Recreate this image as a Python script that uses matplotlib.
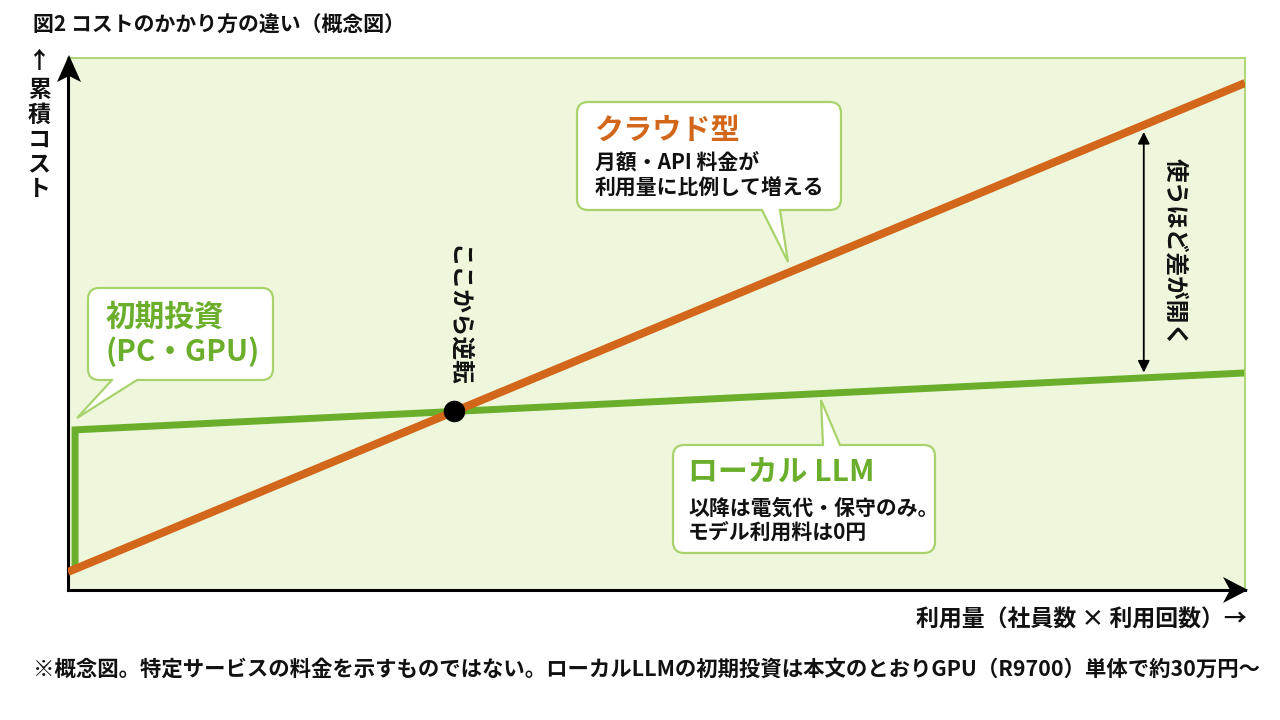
import matplotlib
matplotlib.use('Agg')
import matplotlib.pyplot as plt
from matplotlib.patches import FancyBboxPatch, Polygon

plt.rcParams['font.family'] = ['Noto Sans CJK JP', 'DejaVu Sans']

# ---------------- data ----------------
usage = [0, 100]                      # usage (arbitrary units)
cloud_cost = [3.4, 95.3]              # cumulative cost, cloud
local_usage = [0.6, 0.6, 100]         # local: initial investment step, then slow growth
local_cost = [4.0, 30.1, 40.8]

title = "図2 コストのかかり方の違い（概念図）"
ylabel = "↑累積コスト"
xlabel = "利用量（社員数 × 利用回数）→"
note = "※概念図。特定サービスの料金を示すものではない。ローカルLLMの初期投資は本文のとおりGPU（R9700）単体で約30万円～"
cloud_title = "クラウド型"
cloud_body = ["月額・API 料金が", "利用量に比例して増える"]
local_title = "ローカル LLM"
local_body = ["以降は電気代・保守のみ。", "モデル利用料は0円"]
init_title = ["初期投資", "(PC・GPU)"]
cross_label = "ここから逆転"
gap_label = "使うほど差が開く"
gap_x = 91.4

# ---------------- style ----------------
ORANGE = '#D2661A'
GREEN = '#6AAE2B'
BG = '#EEF7DC'
BORDER = '#A8D36C'

fig = plt.figure(figsize=(12.8, 7.2), dpi=100)
fig.patch.set_facecolor('white')

ax = fig.add_axes([68/1280, 130/720, 1177/1280, 532/720], zorder=1)
ax.set_xlim(0, 100)
ax.set_ylim(0, 100)
ax.set_facecolor(BG)
ax.set_xticks([])
ax.set_yticks([])
for s in ['left', 'bottom']:
    ax.spines[s].set_color('black')
    ax.spines[s].set_linewidth(2.2)
for s in ['top', 'right']:
    ax.spines[s].set_color(BORDER)
    ax.spines[s].set_linewidth(1.3)

ax.plot(local_usage, local_cost, color=GREEN, lw=5.0,
        solid_joinstyle='miter', solid_capstyle='butt', zorder=2)
ax.plot(usage, cloud_cost, color=ORANGE, lw=5.8,
        solid_capstyle='butt', zorder=3)

# intersection point
sc = (cloud_cost[1] - cloud_cost[0]) / (usage[1] - usage[0])
sl = (local_cost[2] - local_cost[1]) / (local_usage[2] - local_usage[1])
ic = cloud_cost[0] - sc * usage[0]
il = local_cost[1] - sl * local_usage[1]
xi = (il - ic) / (sc - sl)
yi = ic + sc * xi
ax.plot([xi], [yi], 'o', ms=14.5, color='black', zorder=4)

# gap arrow
yc = ic + sc * gap_x
yl = il + sl * gap_x
ax.annotate('', xy=(gap_x, yc - 1.3), xytext=(gap_x, yl + 1.0),
            arrowprops=dict(arrowstyle='<|-|>,head_length=0.7,head_width=0.35',
                            color='black', lw=1.3, shrinkA=0, shrinkB=0),
            zorder=4)

# ---------------- overlay (pixel coordinates) ----------------
ov = fig.add_axes([0, 0, 1, 1], zorder=5)
ov.set_xlim(0, 1280)
ov.set_ylim(720, 0)
ov.axis('off')
ov.patch.set_alpha(0)

# axis arrow heads
ov.add_patch(Polygon([(69, 55), (57, 82), (69, 76), (81, 82)], closed=True,
                     fc='black', ec='none', zorder=6))
ov.add_patch(Polygon([(1248, 590), (1223, 577), (1230, 590), (1223, 603)], closed=True,
                     fc='black', ec='none', zorder=6))


def callout(x0, y0, x1, y1, bx1, bx2, by, tip, r=11):
    box = FancyBboxPatch((x0 + r, y0 + r), (x1 - x0 - 2 * r), (y1 - y0 - 2 * r),
                         boxstyle=f"round,pad={r},rounding_size={r}",
                         fc='white', ec=BORDER, lw=1.6, zorder=3)
    ov.add_patch(box)
    d = -3 if tip[1] > by else 3
    ov.add_patch(Polygon([(bx1, by + d), (bx1, by), tip, (bx2, by), (bx2, by + d)],
                         closed=True, fc='white', ec='none', zorder=4))
    ov.plot([bx1, tip[0], bx2], [by, tip[1], by], color=BORDER, lw=1.6,
            solid_joinstyle='miter', zorder=5)


callout(577, 102, 841, 210, 762, 780, 210, (788, 262))
callout(673, 445, 935, 553, 823, 840, 445, (821, 400))
callout(88, 288, 273, 380, 112, 137, 380, (77, 418))

# callout texts
ov.text(595, 130, cloud_title, color=ORANGE, fontsize=21, fontweight='bold',
        ha='left', va='center', zorder=6)
for i, t in enumerate(cloud_body):
    ov.text(595, 163 + 25 * i, t, color='#111111', fontsize=15, fontweight='bold',
            ha='left', va='center', zorder=6)

ov.text(688, 473, local_title, color=GREEN, fontsize=21.5, fontweight='bold',
        ha='left', va='center', zorder=6)
for i, t in enumerate(local_body):
    ov.text(688, 508 + 24 * i, t, color='#111111', fontsize=15, fontweight='bold',
            ha='left', va='center', zorder=6)

for i, t in enumerate(init_title):
    ov.text(106, 317 + 35 * i, t, color=GREEN, fontsize=21.3, fontweight='bold',
            ha='left', va='center', zorder=6)

ov.text(458, 316, cross_label, rotation=270, fontsize=17, fontweight='bold',
        ha='center', va='center', color='#111111', zorder=6)
ov.text(1175, 252, gap_label, rotation=270, fontsize=17, fontweight='bold',
        ha='center', va='center', color='#111111', zorder=6)

# titles and axis labels
ov.text(33, 24, title, fontsize=15, fontweight='bold', ha='left', va='center',
        color='#111111')
for i, ch in enumerate(ylabel):
    ov.text(39, 61 + (0 if i == 0 else 5) + 24.6 * i, ch, fontsize=16.5,
            fontweight='bold', ha='center', va='center', color='#111111')
ov.text(1247, 620, xlabel, fontsize=16.5, fontweight='bold', ha='right', va='center',
        color='#111111')
ov.text(33, 669, note, fontsize=15.4, fontweight='bold', ha='left', va='center',
        color='#111111')

fig.savefig('out.png', dpi=100)
